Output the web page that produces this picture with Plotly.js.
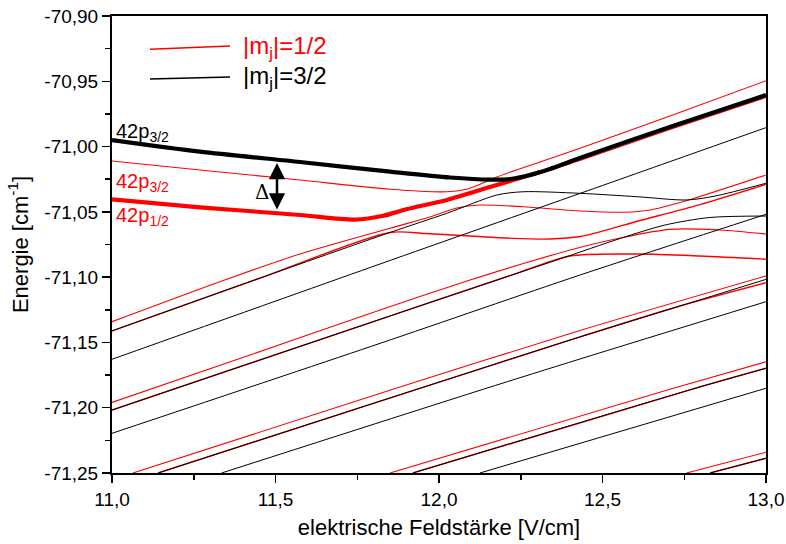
<!DOCTYPE html>
<html>
<head>
<meta charset="utf-8">
<script src="https://cdn.plot.ly/plotly-3.0.1.min.js"></script>
<style>html,body{margin:0;padding:0;background:#fff;}#chart{width:786px;height:544px;}</style>
</head>
<body>
<div id="chart"></div>
<script>
// ---- data (x: field in V/cm, y: energy in cm^-1) ----
// thick black: 42p3/2 |mj|=3/2
const x_A = [11.000, 11.269, 11.575, 11.850, 12.034, 12.156, 12.217, 12.278, 12.339, 12.431, 12.706, 13.000];
const y_A = [-70.9950, -71.0039, -71.0118, -71.0192, -71.0237, -71.0253, -71.0249, -71.0218, -71.0172, -71.0088, -70.9850, -70.9605];
// thick red: 42p1/2 |mj|=1/2
const x_B = [11.000, 11.269, 11.575, 11.743, 11.830, 11.900, 12.024, 12.156, 12.248, 12.309];
const y_B = [-71.0404, -71.0465, -71.0524, -71.0559, -71.0530, -71.0480, -71.0409, -71.0310, -71.0241, -71.0195];
// thin red continuing below the thick black line
const x_B2 = [12.278, 12.431, 12.706, 13.000];
const y_B2 = [-71.0230, -71.0107, -70.9869, -70.9624];
// thin red: 42p3/2 |mj|=1/2
const x_C = [11.000, 11.269, 11.575, 11.850, 12.024, 12.080, 12.125, 12.177, 12.309, 12.416, 12.706, 13.000];
const y_C = [-71.0111, -71.0179, -71.0256, -71.0327, -71.0346, -71.0329, -71.0290, -71.0233, -71.0118, -71.0026, -70.9766, -70.9496];
// Stark manifold states
const x_D1r = [11.000, 11.351, 11.575, 11.850, 11.972, 12.055, 12.125, 12.257, 12.431, 12.563, 12.645, 12.758, 13.000];
const y_D1r = [-71.1341, -71.1016, -71.0823, -71.0626, -71.0539, -71.0470, -71.0448, -71.0461, -71.0493, -71.0503, -71.0486, -71.0413, -71.0218];
const x_D2k = [11.000, 11.443, 11.850, 12.024, 12.177, 12.257, 12.431, 12.606, 12.758, 12.844, 13.000];
const y_D2k = [-71.1412, -71.1016, -71.0658, -71.0511, -71.0371, -71.0346, -71.0358, -71.0384, -71.0409, -71.0379, -71.0281];
const x_D2r = [11.000, 11.443, 11.850, 11.957, 12.095, 12.226, 12.339, 12.431, 12.615, 12.798, 13.000];
const y_D2r = [-71.1412, -71.1016, -71.0658, -71.0666, -71.0685, -71.0703, -71.0708, -71.0689, -71.0566, -71.0444, -71.0289];
const x_D3k = [11.000, 11.820, 12.431, 12.807, 13.000];
const y_D3k = [-71.1629, -71.0899, -71.0359, -71.0026, -70.9855];
const x_D4r = [11.000, 11.422, 11.820, 12.095, 12.294, 12.401, 12.554, 12.706, 12.859, 13.000];
const y_D4r = [-71.1959, -71.1597, -71.1252, -71.1022, -71.0869, -71.0792, -71.0700, -71.0634, -71.0639, -71.0670];
const x_D5k = [11.000, 11.820, 12.360, 12.554, 12.691, 12.829, 13.000];
const y_D5k = [-71.2018, -71.1323, -71.0869, -71.0704, -71.0601, -71.0543, -71.0532];
const x_D5r = [11.000, 11.820, 12.248, 12.401, 12.606, 12.798, 13.000];
const y_D5r = [-71.2018, -71.1323, -71.0961, -71.0838, -71.0823, -71.0838, -71.0863];
const x_D6k = [11.000, 11.820, 12.431, 13.000];
const y_D6k = [-71.2196, -71.1507, -71.0984, -71.0519];
const x_D7r = [11.064, 11.859, 12.431, 13.000];
const y_D7r = [-71.2500, -71.1859, -71.1409, -71.0991];
const x_D8k = [11.141, 11.932, 12.431, 12.737, 13.000];
const y_D8k = [-71.2500, -71.1859, -71.1458, -71.1221, -71.1017];
const x_D8r = [11.141, 11.932, 12.431, 12.737, 13.000];
const y_D8r = [-71.2500, -71.1859, -71.1458, -71.1221, -71.1043];
const x_D9k = [11.335, 12.135, 12.431, 13.000];
const y_D9k = [-71.2500, -71.1859, -71.1627, -71.1188];
const x_D10r = [11.850, 12.706, 13.000];
const y_D10r = [-71.2500, -71.1859, -71.1648];
const x_D11 = [11.920, 12.773, 13.000];
const y_D11 = [-71.2500, -71.1859, -71.1698];
const x_D12k = [12.125, 13.000];
const y_D12k = [-71.2500, -71.1851];
const x_D13r = [12.757, 13.000];
const y_D13r = [-71.2500, -71.2341];
const x_D14 = [12.829, 13.000];
const y_D14 = [-71.2500, -71.2387];

const xTicks = [11.0, 11.5, 12.0, 12.5, 13.0];
const yTicks = [-71.25, -71.20, -71.15, -71.10, -71.05, -71.00, -70.95, -70.90];
const legendLabels = ['|m<sub>j</sub>|=1/2', '|m<sub>j</sub>|=3/2'];
const stateLabels = ['42p<sub>3/2</sub>', '42p<sub>3/2</sub>', '42p<sub>1/2</sub>'];

// ---- drawing ----
const RED = '#ff0000', BLACK = '#000000';
function tr(x, y, color, width) {
  return {x: x, y: y, type: 'scatter', mode: 'lines', hoverinfo: 'skip', showlegend: false,
          line: {color: color, width: width, shape: 'spline', smoothing: 0.8}};
}
const traces = [
  // red components first
  tr(x_D1r, y_D1r, RED, 1.1), tr(x_D2r, y_D2r, RED, 1.4), tr(x_D4r, y_D4r, RED, 1.1),
  tr(x_D5r, y_D5r, RED, 1.4), tr(x_D7r, y_D7r, RED, 1.1), tr(x_D8r, y_D8r, RED, 1.4),
  tr(x_D10r, y_D10r, RED, 1.1), tr(x_D11, y_D11, RED, 1.4), tr(x_D13r, y_D13r, RED, 1.1),
  tr(x_D14, y_D14, RED, 1.4), tr(x_C, y_C, RED, 1.1), tr(x_B2, y_B2, RED, 1.2),
  // black components
  tr(x_D2k, y_D2k, BLACK, 1), tr(x_D3k, y_D3k, BLACK, 1), tr(x_D5k, y_D5k, BLACK, 1),
  tr(x_D6k, y_D6k, BLACK, 1), tr(x_D8k, y_D8k, BLACK, 1), tr(x_D9k, y_D9k, BLACK, 1),
  tr(x_D11, y_D11, BLACK, 1), tr(x_D12k, y_D12k, BLACK, 1), tr(x_D14, y_D14, BLACK, 1),
  // highlighted 42p states
  tr(x_B, y_B, RED, 4.2), tr(x_A, y_A, BLACK, 4.2)
];

const FONT = 'Liberation Sans, Arial, Helvetica, sans-serif';
const axisCommon = {
  showgrid: false, zeroline: false, showline: true, linecolor: BLACK, linewidth: 2, mirror: true,
  ticks: 'outside', ticklen: 8, tickwidth: 1.5, tickcolor: BLACK,
  tickfont: {family: FONT, size: 19, color: BLACK}, automargin: false
};

const layout = {
  width: 786, height: 544,
  margin: {l: 112, r: 20, t: 16, b: 71},
  paper_bgcolor: '#ffffff', plot_bgcolor: '#ffffff',
  separators: ',.',
  font: {family: FONT, color: BLACK},
  showlegend: false,
  xaxis: Object.assign({}, axisCommon, {
    range: [11, 13], tickmode: 'array', tickvals: xTicks, ticktext: xTicks.map(v => v.toFixed(1).replace('.', ',')),
    minor: {dtick: 0.25, tick0: 11, ticks: 'outside', ticklen: 5, tickwidth: 1.5, tickcolor: BLACK, showgrid: false},
    title: {text: 'elektrische Feldstärke [V/cm]', font: {family: FONT, size: 22, color: BLACK}, standoff: 11}
  }),
  yaxis: Object.assign({}, axisCommon, {
    range: [-71.25, -70.90], tickmode: 'array', tickvals: yTicks, ticktext: yTicks.map(v => '-' + Math.abs(v).toFixed(2).replace('.', ',')),
    minor: {dtick: 0.025, tick0: -71.25, ticks: 'outside', ticklen: 5, tickwidth: 1.5, tickcolor: BLACK, showgrid: false},
    title: {text: 'Energie [cm<sup>-1</sup>]', font: {family: FONT, size: 22, color: BLACK}, standoff: 10}
  }),
  shapes: [
    {type: 'line', xref: 'paper', yref: 'paper', x0: 0.0581, y0: 0.9271, x1: 0.1804, y1: 0.9344, line: {color: RED, width: 1.5}},
    {type: 'line', xref: 'paper', yref: 'paper', x0: 0.0581, y0: 0.8622, x1: 0.1804, y1: 0.8665, line: {color: BLACK, width: 1.5}}
  ],
  annotations: [
    {xref: 'paper', yref: 'paper', x: 0.1975, y: 0.9300, xanchor: 'left', yanchor: 'middle', showarrow: false,
     text: legendLabels[0], font: {family: FONT, size: 24, color: RED}},
    {xref: 'paper', yref: 'paper', x: 0.1975, y: 0.8660, xanchor: 'left', yanchor: 'middle', showarrow: false,
     text: legendLabels[1], font: {family: FONT, size: 24, color: BLACK}},
    {xref: 'paper', yref: 'paper', x: 0.003, y: 0.745, xanchor: 'left', yanchor: 'middle', showarrow: false,
     text: stateLabels[0], font: {family: FONT, size: 20, color: BLACK}},
    {xref: 'paper', yref: 'paper', x: 0.003, y: 0.636, xanchor: 'left', yanchor: 'middle', showarrow: false,
     text: stateLabels[1], font: {family: FONT, size: 20, color: RED}},
    {xref: 'paper', yref: 'paper', x: 0.003, y: 0.562, xanchor: 'left', yanchor: 'middle', showarrow: false,
     text: stateLabels[2], font: {family: FONT, size: 20, color: RED}},
    {xref: 'paper', yref: 'paper', x: 0.2294, y: 0.6149, xanchor: 'center', yanchor: 'middle', showarrow: false,
     text: 'Δ', font: {family: 'DejaVu Serif, serif', size: 20, color: BLACK}},
    {xref: 'x', yref: 'y', x: 11.5046, y: -71.0126, axref: 'x', ayref: 'y', ax: 11.5046, ay: -71.0493,
     text: '', showarrow: true, arrowside: 'end+start', arrowhead: 2, arrowsize: 1.3, arrowwidth: 2.5,
     arrowcolor: BLACK, standoff: 0, startstandoff: 0}
  ]
};

Plotly.newPlot('chart', traces, layout, {staticPlot: true, displayModeBar: false});
</script>
</body>
</html>
